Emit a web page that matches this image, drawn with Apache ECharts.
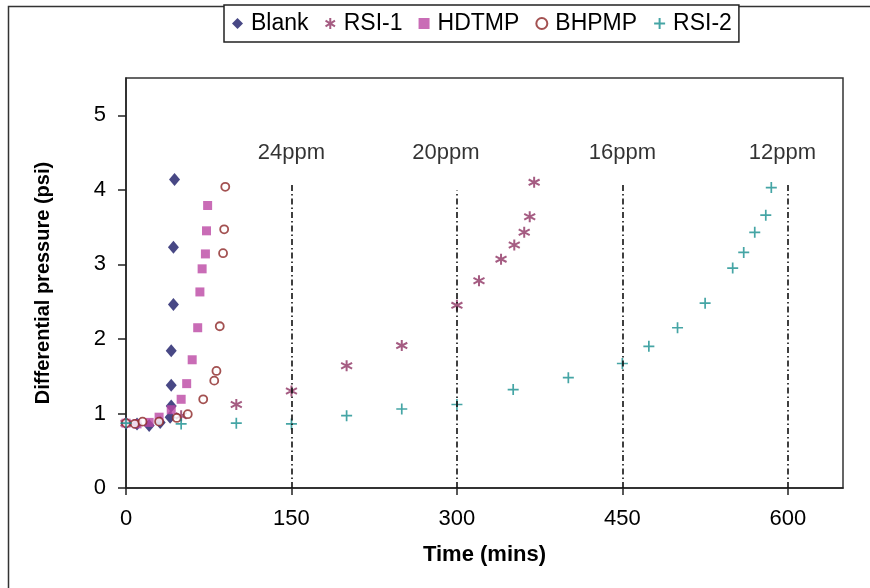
<!DOCTYPE html>
<html>
<head>
<meta charset="utf-8">
<script src="https://cdn.jsdelivr.net/npm/echarts@6/dist/echarts.min.js"></script>
<style>
html,body{margin:0;padding:0;background:#fff;}
#chart{width:870px;height:588px;}
</style>
</head>
<body>
<div id="chart"></div>
<script>
// ---- data ----
var blankX = [0, 10, 21, 31, 40, 41, 41, 41, 43, 43, 44];
var blankY = [0.87, 0.86, 0.84, 0.88, 0.95, 1.10, 1.38, 1.84, 2.46, 3.23, 4.14];

var rsi1X = [0, 50, 100, 150, 200, 250, 300, 320, 340, 352, 361, 366, 370];
var rsi1Y = [0.87, 0.97, 1.12, 1.30, 1.64, 1.91, 2.45, 2.78, 3.07, 3.26, 3.43, 3.64, 4.10];

var hdtmpX = [0, 10, 21, 30, 41, 50, 55, 60, 65, 67, 69, 72, 73, 74];
var hdtmpY = [0.87, 0.86, 0.88, 0.95, 1.05, 1.19, 1.40, 1.72, 2.15, 2.63, 2.94, 3.14, 3.45, 3.79];

var bhpmpX = [0, 8, 15, 30, 46, 56, 70, 80, 82, 85, 88, 89, 90];
var bhpmpY = [0.87, 0.86, 0.89, 0.89, 0.94, 0.99, 1.19, 1.44, 1.57, 2.17, 3.15, 3.47, 4.04];

var rsi2X = [0, 50, 100, 150, 200, 250, 300, 351, 401, 450, 474, 500, 525, 550, 560, 570, 580, 585];
var rsi2Y = [0.87, 0.86, 0.87, 0.86, 0.97, 1.06, 1.12, 1.32, 1.48, 1.67, 1.90, 2.15, 2.48, 2.95, 3.16, 3.43, 3.66, 4.03];

var doseLineX = [150, 300, 450, 600];
var doseLineTop = [4.08, 3.99, 4.09, 4.09];
var doseLabels = ['24ppm', '20ppm', '16ppm', '12ppm'];
var doseLabelX = [150, 290, 450, 595];
var doseLabelY = 4.5;

var xTicks = [0, 150, 300, 450, 600];
var yTicks = [0, 1, 2, 3, 4, 5];

// ---- helpers ----
function zip(xs, ys) { return xs.map(function (x, i) { return [x, ys[i]]; }); }

var FONT = 'Liberation Sans, Arial, sans-serif';

var ASTERISK = 'path://M0,-5L0,5M-4.3,-2.6L4.3,2.6M-4.3,2.6L4.3,-2.6';
var PLUS = 'path://M0,-5L0,5M-5,0L5,0';

var chart = echarts.init(document.getElementById('chart'), null, {renderer: 'canvas'});

var markLineData = doseLineX.map(function (x, i) {
  return [{coord: [x, 0]}, {coord: [x, doseLineTop[i]]}];
});

var option = {
  animation: false,
  backgroundColor: '#fff',
  graphic: [{
    type: 'rect', silent: true, z: -1,
    shape: {x: 8.5, y: 6.5, width: 900, height: 600},
    style: {fill: 'none', stroke: '#333', lineWidth: 1.5}
  }],
  legend: {
    data: ['Blank', 'RSI-1', 'HDTMP', 'BHPMP', 'RSI-2'],
    left: 224, top: 5,
    padding: [7, 7, 7, 8],
    borderColor: '#222', borderWidth: 1.5,
    backgroundColor: '#fff',
    itemWidth: 11, itemHeight: 11, itemGap: 16,
    selectedMode: false,
    textStyle: {fontFamily: FONT, fontSize: 23, color: '#000', padding: [0, 0, 0, 3]}
  },
  grid: {
    left: 126, top: 78, right: 27, bottom: 100,
    show: true, borderColor: '#333', borderWidth: 1.5, backgroundColor: 'transparent'
  },
  xAxis: {
    type: 'value', min: 0, max: 650, interval: 150,
    name: 'Time (mins)', nameLocation: 'middle', nameGap: 56,
    nameTextStyle: {fontFamily: FONT, fontSize: 22, fontWeight: 'bold', color: '#000'},
    axisLine: {lineStyle: {color: '#222', width: 1.5}},
    axisTick: {show: true, length: 7, customValues: xTicks, lineStyle: {color: '#222', width: 1.5}},
    axisLabel: {customValues: xTicks, margin: 20, fontFamily: FONT, fontSize: 22, color: '#000'},
    splitLine: {show: false}
  },
  yAxis: {
    type: 'value', min: 0, max: 5.5, interval: 1,
    name: 'Differential pressure (psi)', nameLocation: 'middle', nameGap: 73,
    nameTextStyle: {fontFamily: FONT, fontSize: 20, fontWeight: 'bold', color: '#000'},
    axisLine: {show: true, lineStyle: {color: '#222', width: 1.5}},
    axisTick: {show: true, length: 8, customValues: yTicks, lineStyle: {color: '#222', width: 1.5}},
    axisLabel: {customValues: yTicks, margin: 20, fontFamily: FONT, fontSize: 22, color: '#000'},
    splitLine: {show: false}
  },
  series: [
    {
      name: 'dose lines', type: 'line', data: [], silent: true,
      markLine: {
        silent: true, symbol: ['none', 'none'],
        lineStyle: {color: '#111', width: 1.6, type: [6, 3, 1.5, 3]},
        label: {show: false},
        data: markLineData
      }
    },
    {
      name: 'dose labels', type: 'scatter', silent: true, symbolSize: 0,
      data: doseLabelX.map(function (x, i) { return {name: doseLabels[i], value: [x, doseLabelY]}; }),
      label: {show: true, position: 'inside', formatter: '{b}',
              fontFamily: FONT, fontSize: 22, color: '#000'}
    },
    {
      name: 'Blank', type: 'scatter', symbol: 'diamond', symbolSize: [11, 13],
      itemStyle: {color: '#1A1A66'},
      data: zip(blankX, blankY)
    },
    {
      name: 'RSI-1', type: 'scatter', symbol: ASTERISK, symbolSize: 11,
      itemStyle: {color: '#8E3363', borderColor: '#8E3363', borderWidth: 2},
      data: zip(rsi1X, rsi1Y)
    },
    {
      name: 'HDTMP', type: 'scatter', symbol: 'rect', symbolSize: 9,
      itemStyle: {color: '#BB47A4'},
      data: zip(hdtmpX, hdtmpY)
    },
    {
      name: 'BHPMP', type: 'scatter', symbol: 'circle', symbolSize: 8,
      itemStyle: {color: '#fff', borderColor: '#8C2525', borderWidth: 1.8},
      data: zip(bhpmpX, bhpmpY)
    },
    {
      name: 'RSI-2', type: 'scatter', symbol: PLUS, symbolSize: 11,
      itemStyle: {color: '#168F8F', borderColor: '#168F8F', borderWidth: 1.7},
      data: zip(rsi2X, rsi2Y)
    }
  ]
};
chart.setOption(option);
</script>
</body>
</html>
